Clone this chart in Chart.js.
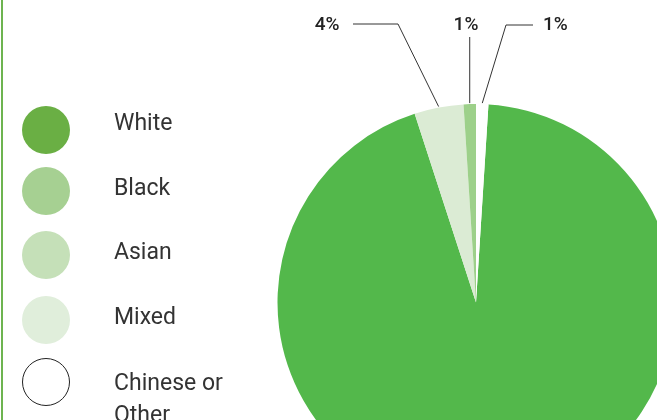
<!DOCTYPE html>
<html>
<head>
<meta charset="utf-8">
<script src="https://cdn.jsdelivr.net/npm/chart.js@4/dist/chart.umd.min.js"></script>
<style>
  html, body { margin:0; padding:0; width:657px; height:420px; overflow:hidden; background:#fff; }
  #wrap { position:relative; width:657px; height:420px; }
  #frame { position:absolute; left:1px; top:0; width:1.5px; height:420px; background:#6db450; }
  canvas { position:absolute; left:0; top:0; }
  .dot { position:absolute; left:22px; width:48px; height:48px; border-radius:50%; box-sizing:border-box; }
  .lbl { position:absolute; left:114px; font-family:Roboto, "Noto Sans", sans-serif; font-size:23px; line-height:32px; color:#333; white-space:nowrap; }
</style>
</head>
<body>
<div id="wrap">
  <div id="frame"></div>
  <canvas id="c" width="657" height="420"></canvas>
  <div id="legend"></div>
</div>
<script>
// ---- data ----
const categories = ['White', 'Black', 'Asian', 'Mixed', 'Chinese or Other'];
const values = [94, 1, 0, 4, 1];               // percent
const sliceColors = ['#53b84b', '#9dd08a', '#c5e0b8', '#dbebd4', '#ffffff'];
const legendColors = ['#6aaf44', '#a6d092', '#c5e0b8', '#e0eedb', '#ffffff'];
const drawOrder = [0, 3, 2, 1, 4];             // clockwise order of slices after rotation
const labelled = ['Mixed', 'Black', 'Chinese or Other'];

// ---- layout / style (not data) ----
const legendTops = [107, 172, 236, 301, 367];
const dotTops = [106, 167, 231, 296, 358];
const leaderStyle = {
  'Mixed': { elbow: [398, 24], end: [353, 24], text: [339.5, 29.5], align: 'right' },
  'Black': { elbow: null, end: [469.5, 37], text: [466, 29.5], align: 'center' },
  'Chinese or Other': { elbow: [506, 25], end: [533, 25], text: [543, 29.5], align: 'left' }
};

// legend
const legend = document.getElementById('legend');
categories.forEach((c, i) => {
  const d = document.createElement('div');
  d.className = 'dot';
  d.style.top = dotTops[i] + 'px';
  d.style.background = legendColors[i];
  if (legendColors[i] === '#ffffff') d.style.border = '1.5px solid #222';
  legend.appendChild(d);
  const t = document.createElement('div');
  t.className = 'lbl';
  t.style.top = legendTops[i] + 'px';
  t.innerHTML = c === 'Chinese or Other' ? 'Chinese or<br>Other' : c;
  legend.appendChild(t);
});

const orderedLabels = drawOrder.map(i => categories[i]);
const orderedValues = drawOrder.map(i => values[i]);
const orderedColors = drawOrder.map(i => sliceColors[i]);

const leaderPlugin = {
  id: 'leaders',
  afterDatasetsDraw(chart) {
    const ctx = chart.ctx;
    const meta = chart.getDatasetMeta(0);
    ctx.save();
    ctx.strokeStyle = '#333';
    ctx.lineWidth = 1;
    ctx.fillStyle = '#222';
    ctx.font = '500 19px Roboto, "Noto Sans", sans-serif';
    ctx.textBaseline = 'alphabetic';
    meta.data.forEach((arc, i) => {
      const name = orderedLabels[i];
      if (!labelled.includes(name)) return;
      const s = leaderStyle[name];
      const p = arc.getProps(['x', 'y', 'startAngle', 'endAngle', 'outerRadius'], true);
      const mid = (p.startAngle + p.endAngle) / 2;
      const ex = p.x + Math.cos(mid) * (p.outerRadius + 1);
      const ey = p.y + Math.sin(mid) * (p.outerRadius + 1);
      ctx.beginPath();
      ctx.moveTo(ex, ey);
      if (s.elbow) {
        ctx.lineTo(s.elbow[0], s.elbow[1]);
        ctx.lineTo(s.end[0], s.end[1]);
      } else {
        ctx.lineTo(ex, s.end[1]);
      }
      ctx.stroke();
      ctx.textAlign = s.align;
      ctx.fillText(orderedValues[i] + '%', s.text[0], s.text[1]);
    });
    ctx.restore();
  }
};

new Chart(document.getElementById('c'), {
  type: 'pie',
  data: {
    labels: orderedLabels,
    datasets: [{
      data: orderedValues,
      backgroundColor: orderedColors,
      borderWidth: 0,
      clip: false
    }]
  },
  options: {
    responsive: false,
    animation: false,
    rotation: 3.6,
    radius: 198.5,
    layout: { padding: { left: 295, right: 0, top: 185, bottom: 0 } },
    plugins: { legend: { display: false }, tooltip: { enabled: false } },
    events: []
  },
  plugins: [leaderPlugin]
});
</script>
</body>
</html>
